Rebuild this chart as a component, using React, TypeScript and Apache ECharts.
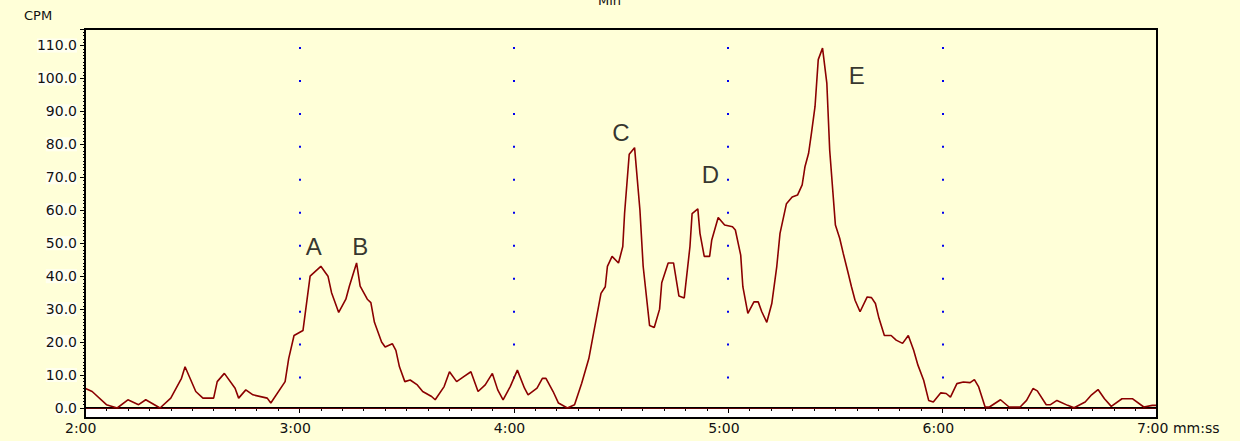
import React, { useEffect, useRef } from "react";
import * as echarts from "echarts";

// seconds after 2:00
const times = [0,2,6,9,12,15,17,21,24,27,28,31,33,36,37,39,42,43,45,47,51,52,56,57,58.5,61,63,66,68,69,71,73,74,76,77,79,80,81,83,84,86,87,88,89.5,91,93,94.5,97,98,100.5,102,104,106,108,110,112,114,115.5,117,119,121,123,124,126.5,128,129,131,132.5,135,137,139,141,
144.4,145.6,146.2,147.5,149.3,150.5,151,152.3,153.8,155.3,156.2,158,159.3,160.8,161.4,163.2,164.7,166.2,167.7,169.3,169.9,171.5,172.1,173.3,174.8,175.4,177.2,179,181.2,182,183.5,184.1,185.5,187.2,188.4,189.4,190.8,192.2,193.6,194.5,196.3,197.9,199.4,200.7,201.5,202.5,203.3,204.3,205.2,206.4,207.6,208.4,210,211.2,212.2,213.6,214.5,215.5,216.9,218.9,220.1,221.2,222.2,223.7,225.6,227,228.8,230.4,231.9,233.1,234.7,236.1,237.4,239.5,241,242.2,244,245.8,247.7,248.9,250.1,251.9,253.1,256.2,258.6,261.7,263.5,265.3,266.5,269,270.2,272,275,276.8,279.9,281.7,283.5,285.3,287.2,290.2,293.2,296.3,298.7,300];
const cpm = [6,5,1,0,2.5,1,2.5,0,3,9,12.5,5,3,3,8,10.5,6,3,5.5,4,3,1.5,8,15,22,23.5,40,43,40,35,29,33,37,44,37,33,32,26,20,18.5,19.5,17.5,12.5,8,8.5,7,5,3.5,2.5,6.5,11,8,9.5,11,5,7,10.5,5.5,2.5,6.5,11.5,6,4,6,9,9,5,1.5,0,1,7.5,15,
34.8,36.8,43,46,44,49,59,77,79,60,43,25,24.4,30,38,44,44,34,33.4,49,59,60.4,53,46,46,51,57.8,55.5,55,54,46.4,36.8,28.7,32.2,32.2,29.2,26,31.7,43,53,62,64,64.6,67.7,73.3,77.3,83.4,91.5,105.7,109.2,98.6,78.3,55.5,51.5,46.9,40.8,36.8,32.7,29.2,33.7,33.5,31.7,27.2,22,22,20.6,19.6,22,17.5,13,8.4,2.3,1.8,4.6,4.4,3.3,7.4,7.9,7.7,8.6,6.4,0.3,0.3,2.5,0.3,0.3,2.3,5.9,5.2,1,1,2.3,0.8,0.1,1.8,4,5.6,2.8,0.5,2.8,2.8,0.3,0.8,0.8];
const peakNames = ["A","B","C","D","E"];
const peakX = [184,197,270,295,336];
const peakY = [49,49,83.5,71,101];
const yTicks = [0,10,20,30,40,50,60,70,80,90,100,110];

export default function App() {
  const ref = useRef<HTMLDivElement>(null);
  useEffect(() => {
    const chart = echarts.init(ref.current!, null, { renderer: "svg" });
    const fmt = (v: number) => {
      const m = Math.floor(v / 60), s = Math.round(v % 60);
      const l = `${m}:${String(s).padStart(2, "0")}`;
      return v === 420 ? l + " mm:ss" : l;
    };
    const font = "DejaVu Sans, Verdana, sans-serif";
    chart.setOption({
      animation: false,
      backgroundColor: "#FFFFD8",
      grid: { left: 85, right: 83, top: 29, bottom: 33 },
      xAxis: {
        type: "value", min: 120, max: 420, interval: 60, offset: 10,
        axisLine: { lineStyle: { color: "#000", width: 2 } },
        axisTick: { length: 5, lineStyle: { color: "#000" } },
        minorTick: { show: true, splitNumber: 10, length: 3, lineStyle: { color: "#000" } },
        axisLabel: { formatter: fmt, color: "#111", fontSize: 14, fontFamily: font, margin: 3, align: "left", padding: [0,0,0,-20] },
        splitLine: { show: true, lineStyle: { color: "#0000ee", width: 2, type: [2, 30.96], dashOffset: 15 } },
      },
      yAxis: {
        type: "value", min: 0, max: 115, interval: 10,
        axisLine: { show: true, lineStyle: { color: "#000", width: 2 } },
        axisTick: { show: true, length: 5, lineStyle: { color: "#000" } },
        minorTick: { show: true, splitNumber: 10, length: 2, lineStyle: { color: "#000" } },
        splitLine: { show: false },
        axisLabel: {
          formatter: (v: number) => (yTicks.includes(v) ? v.toFixed(1) : ""),
          color: "#111", fontSize: 14, fontFamily: font, margin: 8,
          backgroundColor: "rgba(255,255,255,0.6)",
        },
      },
      graphic: [
        { type: "rect", shape: { x: 86, y: 408, width: 1071, height: 10 }, style: { fill: "#fff" }, z: 0 },
        { type: "rect", shape: { x: 85, y: 29, width: 1072, height: 389 }, style: { fill: "none", stroke: "#000", lineWidth: 2 }, z: 10 },
        { type: "text", x: 24, y: 9, style: { text: "CPM", fontSize: 13, fontFamily: font, fill: "#111" } },
        { type: "text", x: 598, y: -6, style: { text: "Min", fontSize: 13, fontFamily: font, fill: "#111" } },
      ],
      series: [
        {
          type: "line", data: times.map((t, i) => [t + 120, cpm[i]]), symbol: "none",
          lineStyle: { color: "#8B0000", width: 1.6 }, z: 5,
          markLine: { silent: true, symbol: "none", label: { show: false }, lineStyle: { color: "#5a0000", width: 1, type: "solid" }, data: [{ yAxis: 0 }] },
        },
        {
          type: "scatter", symbolSize: 0, data: peakX.map((x, i) => [x, peakY[i], peakNames[i]]),
          label: { show: true, position: "inside", formatter: (p: any) => p.value[2], fontSize: 24, color: "#000", fontFamily: "Liberation Sans, Arial" },
        },
      ],
    });
    return () => chart.dispose();
  }, []);
  return <div ref={ref} style={{ width: 1240, height: 441, position: "absolute", left: 0, top: 0 }} />;
}
